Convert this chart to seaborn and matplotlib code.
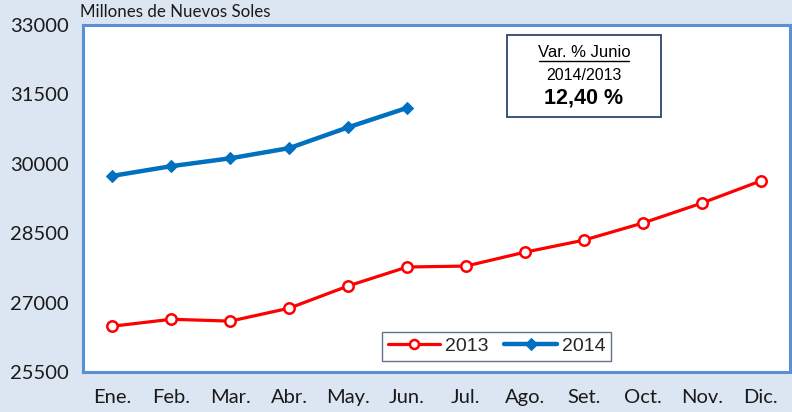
import numpy as np
import pandas as pd
import matplotlib
matplotlib.use("Agg")
import matplotlib.pyplot as plt
from matplotlib.patches import Rectangle
from matplotlib.lines import Line2D
import seaborn as sns

# Data
months = ["Ene.", "Feb.", "Mar.", "Abr.", "May.", "Jun.",
          "Jul.", "Ago.", "Set.", "Oct.", "Nov.", "Dic."]
values_2013 = [26490, 26640, 26600, 26880, 27360, 27770,
               27790, 28090, 28350, 28720, 29150, 29630]
values_2014 = [29740, 29950, 30120, 30340, 30790, 31210]
y_ticks = [25500, 27000, 28500, 30000, 31500, 33000]

df13 = pd.DataFrame({"mes": np.arange(len(months)), "valor": values_2013})
df14 = pd.DataFrame({"mes": np.arange(len(values_2014)), "valor": values_2014})

sns.set_style("white")
plt.rcParams["font.family"] = ["Lato", "DejaVu Sans"]

fig = plt.figure(figsize=(7.92, 4.12), dpi=100, facecolor="#dce6f2")
ax = fig.add_axes([0.1048, 0.0971, 0.8927, 0.842])
ax.set_facecolor("white")

sns.lineplot(data=df13, x="mes", y="valor", ax=ax, color="#ff0000", lw=2.3,
             marker="o", markersize=7.5, markerfacecolor="white",
             markeredgecolor="#ff0000", markeredgewidth=1.8, label="2013")
sns.lineplot(data=df14, x="mes", y="valor", ax=ax, color="#0070c0", lw=3.2,
             marker="D", markersize=6.5, markerfacecolor="#0070c0",
             markeredgecolor="#0070c0", label="2014")

ax.set_xlim(-0.5, len(months) - 0.5)
ax.set_ylim(y_ticks[0], y_ticks[-1])
ax.set_yticks(y_ticks)
ax.set_yticklabels([str(v) for v in y_ticks], fontsize=14.5, color="#1a1a1a")
ax.set_xticks(np.arange(len(months)))
ax.set_xticklabels(months, fontsize=14.5, color="#1a1a1a")
ax.set_xticks(np.arange(len(months) + 1) - 0.5, minor=True)
ax.tick_params(axis="x", which="major", length=0, pad=12)
ax.tick_params(axis="x", which="minor", length=6, width=1.2, color="#6a9be0", direction="out")
ax.tick_params(axis="y", length=6, width=1.2, color="#6a9be0", direction="out", pad=4)
ax.set_xlabel("")
ax.set_ylabel("")

for side in ["left", "right", "top", "bottom"]:
    ax.spines[side].set_color("#5b8fd6")
    ax.spines[side].set_linewidth(2.2)

fig.text(0.101, 0.952, "Millones de Nuevos Soles", fontsize=12.2, color="#1a1a1a",
         ha="left", va="bottom")

leg = ax.legend(loc="center", bbox_to_anchor=(0.585, 0.0735), ncol=2,
                frameon=True, fancybox=False,
                prop={"family": "Liberation Sans", "size": 14},
                handlelength=2.7, handletextpad=0.25, columnspacing=0.8,
                borderpad=0.3, borderaxespad=0)
leg.get_frame().set_edgecolor("#3f4f6e")
leg.get_frame().set_linewidth(1.0)
for h in leg.legend_handles:
    h.set_markersize(6.5)

# annotation box
ax.add_patch(Rectangle((0.599, 0.735), 0.219, 0.236, transform=ax.transAxes,
                       facecolor="white", edgecolor="#2f4470", lw=1.3, zorder=5))
ax.text(0.7085, 0.921, "Var. % Junio", transform=ax.transAxes, ha="center", va="center",
        fontsize=12, family="Liberation Sans", color="black", zorder=6)
ax.add_line(Line2D([0.645, 0.772], [0.897, 0.897], transform=ax.transAxes,
                   color="black", lw=1.0, zorder=6))
ax.text(0.7085, 0.856, "2014/2013", transform=ax.transAxes, ha="center", va="center",
        fontsize=11.5, family="Liberation Sans", color="black", zorder=6)
ax.text(0.7085, 0.789, "12,40 %", transform=ax.transAxes, ha="center", va="center",
        fontsize=15.5, fontweight="bold", family="Liberation Sans", color="black", zorder=6)

fig.savefig("out.png", dpi=100, facecolor=fig.get_facecolor())
